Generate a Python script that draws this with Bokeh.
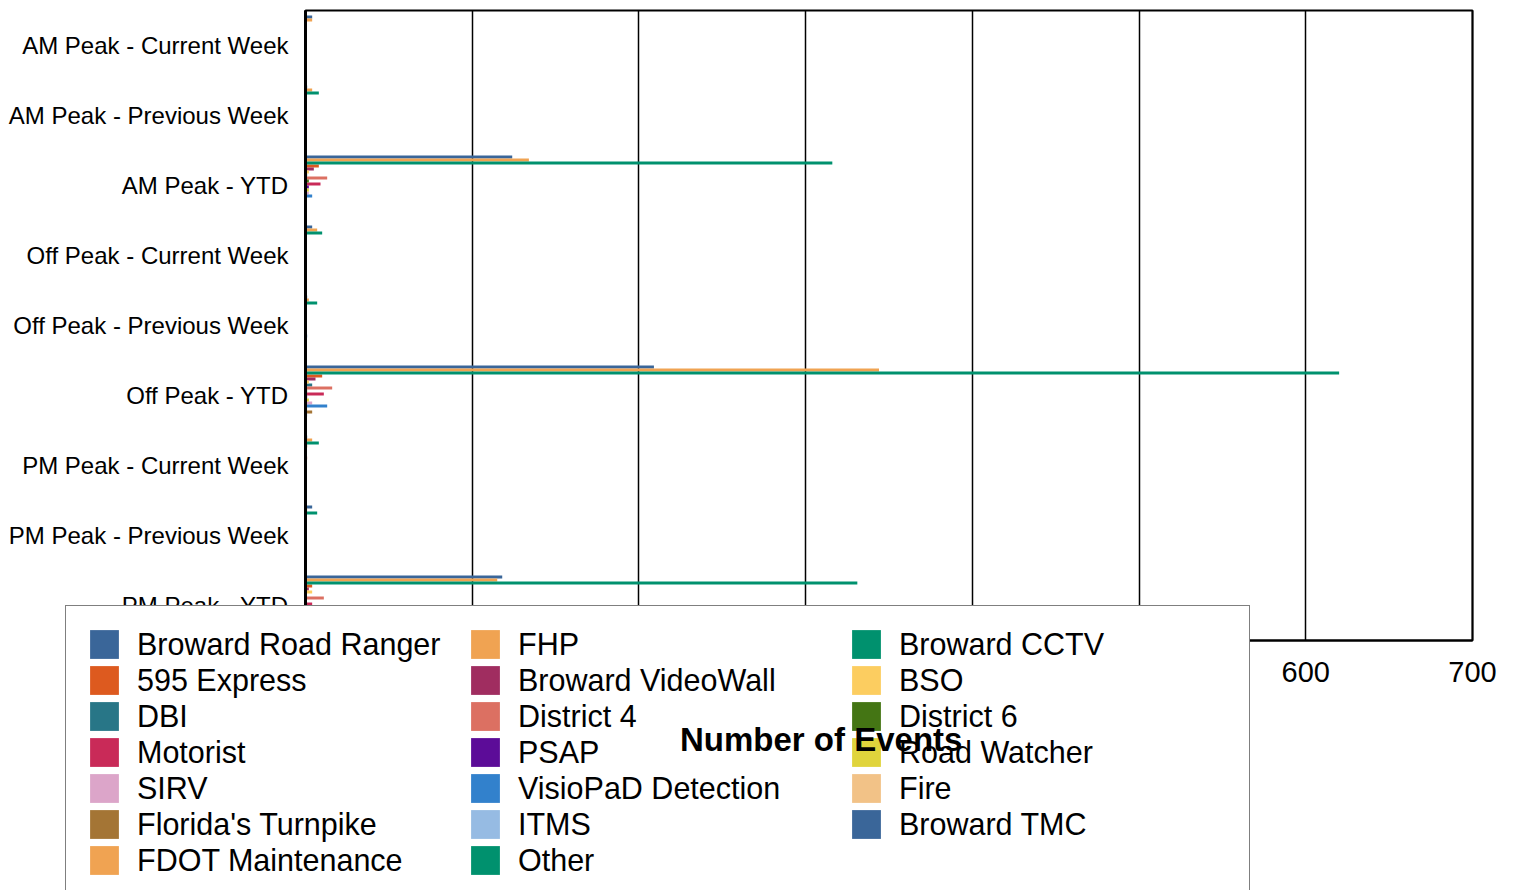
from bokeh.plotting import figure
from bokeh.models import (ColumnDataSource, Range1d, Legend, LegendItem, Grid,
                          FixedTicker, LinearAxis)
from bokeh.embed import file_html
from bokeh.resources import INLINE

categories = ["AM Peak - Current Week", "AM Peak - Previous Week", "AM Peak - YTD",
              "Off Peak - Current Week", "Off Peak - Previous Week", "Off Peak - YTD",
              "PM Peak - Current Week", "PM Peak - Previous Week", "PM Peak - YTD"]

# series in legend order (column by column)
series_names = ["Broward Road Ranger", "595 Express", "DBI", "Motorist", "SIRV",
                "Florida's Turnpike", "FDOT Maintenance",
                "FHP", "Broward VideoWall", "District 4", "PSAP", "VisioPaD Detection",
                "ITMS", "Other",
                "Broward CCTV", "BSO", "District 6", "Road Watcher", "Fire", "Broward TMC"]

series_colors = ["#3a6699", "#dd5a1f", "#287687", "#c92a58", "#dca5c9",
                 "#a47535", "#f0a352",
                 "#f0a352", "#a02d60", "#dc7062", "#5c0c98", "#3281cc",
                 "#96bbe3", "#00916e",
                 "#00916e", "#fccd60", "#447514", "#e0d43c", "#f2c287", "#3a6699"]

broward_road_ranger = [4, 1, 124, 4, 1, 209, 1, 4, 118]
express_595 = [0, 0, 8, 0, 0, 10, 1, 0, 4]
dbi = [0, 0, 1, 0, 0, 4, 0, 0, 0]
motorist = [0, 0, 9, 0, 0, 11, 0, 0, 4]
sirv = [0, 0, 2, 0, 0, 4, 0, 0, 2]
floridas_turnpike = [0, 0, 0, 0, 0, 4, 0, 0, 2]
fdot_maintenance = [0, 0, 0, 0, 0, 0, 0, 0, 0]
fhp = [4, 4, 134, 7, 2, 344, 4, 1, 115]
broward_videowall = [0, 0, 5, 0, 0, 6, 0, 0, 2]
district_4 = [0, 0, 13, 0, 0, 16, 1, 0, 11]
psap = [0, 0, 2, 0, 0, 1, 0, 0, 1]
visiopad_detection = [0, 0, 4, 0, 1, 13, 0, 0, 5]
itms = [0, 0, 0, 0, 0, 1, 0, 0, 0]
other = [0, 0, 0, 0, 0, 0, 0, 0, 0]
broward_cctv = [0, 8, 316, 10, 7, 620, 8, 7, 331]
bso = [0, 0, 2, 0, 0, 2, 0, 0, 4]
district_6 = [0, 0, 2, 0, 0, 1, 0, 0, 0]
road_watcher = [0, 0, 2, 0, 0, 2, 0, 0, 2]
fire = [0, 0, 0, 0, 0, 1, 0, 0, 1]
broward_tmc = [0, 0, 0, 0, 0, 0, 0, 0, 0]

series_values = [broward_road_ranger, express_595, dbi, motorist, sirv,
                 floridas_turnpike, fdot_maintenance,
                 fhp, broward_videowall, district_4, psap, visiopad_detection,
                 itms, other,
                 broward_cctv, bso, district_6, road_watcher, fire, broward_tmc]

x_ticks = [0, 100, 200, 300, 400, 500, 600, 700]
x_title = "Number of Events"

FONT = "Liberation Sans"

# ---- layout (pixels on the canvas) ----
W, H = 1510, 890
PL, PR, PT, PB = 305, 1472, 10, 640          # plot area on canvas
ncat = len(categories)
xmax = x_ticks[-1]
ppx = (PR - PL) / float(xmax)                 # pixels per event
ppy = (PB - PT) / float(ncat)                 # pixels per category
x_start = -PL / ppx
x_end = xmax + (W - PR) / ppx
y_end = ncat + PT / ppy
y_start = -(H - PB) / ppy

# numeric category centres, first category at the top
cat_pos = [ncat - i - 0.5 for i in range(ncat)]

p = figure(width=W, height=H, output_backend="svg", toolbar_location=None,
           title=None, x_range=Range1d(x_start, x_end),
           y_range=Range1d(y_start, y_end),
           min_border=0, x_axis_type=None, y_axis_type=None)
p.outline_line_color = None
p.background_fill_color = "white"
p.border_fill_color = "white"

# axes drawn at the chart's own origin
xaxis = LinearAxis(fixed_location=0, bounds=(0, xmax),
                   ticker=FixedTicker(ticks=x_ticks))
xaxis.major_label_text_font = FONT
xaxis.major_label_text_font_size = "29px"
xaxis.major_label_text_color = "black"
xaxis.major_tick_line_color = None
xaxis.minor_tick_line_color = None
xaxis.major_label_standoff = 15
xaxis.axis_line_color = "black"
xaxis.axis_line_width = 2
p.add_layout(xaxis, "below")

yaxis = LinearAxis(fixed_location=0, bounds=(0, ncat),
                   ticker=FixedTicker(ticks=cat_pos),
                   major_label_overrides={pos: c for pos, c in zip(cat_pos, categories)})
yaxis.major_label_text_font = FONT
yaxis.major_label_text_font_size = "24px"
yaxis.major_label_text_color = "black"
yaxis.major_tick_line_color = None
yaxis.minor_tick_line_color = None
yaxis.major_label_standoff = 11
yaxis.axis_line_color = "black"
yaxis.axis_line_width = 3
p.add_layout(yaxis, "left")

grid = Grid(dimension=0, ticker=xaxis.ticker, grid_line_color="black",
            grid_line_width=1.5)
if "cross_bounds" in Grid.properties():
    grid.cross_bounds = (0, ncat)
p.add_layout(grid)

# plot-area border (top and right edges)
p.quad(left=[0], right=[xmax], bottom=[0], top=[ncat], fill_color=None,
       line_color="black", line_width=2)

nrows = 7
bar_h = 3.0 / 70.0
items = []
rends = []
for k, name in enumerate(series_names):
    col, row = divmod(k, nrows)
    slot = row * 3 + col
    offset = (30.0 - 3.0 * slot - 1.5) / 70.0
    src = ColumnDataSource({"y": [c + offset for c in cat_pos],
                            "v": series_values[k]})
    r = p.hbar(y="y", left=0, right="v", height=bar_h, source=src,
               fill_color=series_colors[k], line_color=None)
    rends.append(r)
    items.append(LegendItem(label=name, renderers=[r]))

LEG_L, LEG_T, LEG_PAD, ROW = 65, 607, 20, 36
leg_h = 2 * LEG_PAD + nrows * ROW
legend = Legend(items=items, location=(LEG_L, H - (LEG_T + leg_h)), ncols=3,
                orientation="vertical",
                label_text_font=FONT, label_text_font_size="30.5px",
                label_text_color="black",
                glyph_width=36, glyph_height=36, label_standoff=15,
                label_width=330, label_height=36, spacing=0,
                padding=LEG_PAD, margin=0,
                border_line_color="black", border_line_width=1,
                background_fill_color="white", background_fill_alpha=1.0)
p.add_layout(legend, "center")

# x-axis title, painted over the legend (as in the original chart)
T_LEFT, T_MID, T_H = 680, 740, 38
title_legend = Legend(items=[LegendItem(label=x_title, renderers=[rends[-1]])],
                      location=(T_LEFT, H - (T_MID + T_H // 2)),
                      orientation="vertical",
                      label_text_font=FONT, label_text_font_size="33px",
                      label_text_font_style="bold", label_text_color="black",
                      glyph_width=0, glyph_height=T_H, label_standoff=0,
                      label_height=T_H, spacing=0, padding=0, margin=0,
                      border_line_color=None, background_fill_alpha=0.0)
p.add_layout(title_legend, "center")

open("out.html", "w").write(file_html(p, INLINE))
